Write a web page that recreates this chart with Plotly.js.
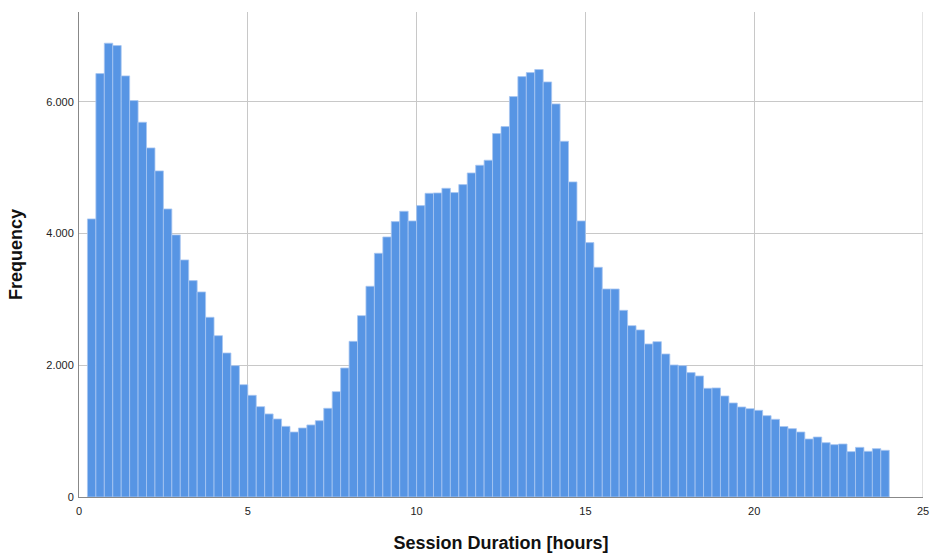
<!DOCTYPE html>
<html>
<head>
<meta charset="utf-8">
<script src="https://cdn.plot.ly/plotly-3.0.1.min.js"></script>
<style>html,body{margin:0;padding:0;background:#fff;}#chart{width:930px;height:553px;}</style>
</head>
<body>
<div id="chart"></div>
<script>
// Histogram bins: 0.25-hour bins starting at 0.25 h
const binStart = 0.25;
const binWidth = 0.25;
const frequency = [
  4223, 6430, 6891, 6855, 6395, 6020, 5691, 5301, 4952, 4374,
  3980, 3600, 3286, 3114, 2729, 2450, 2187, 1995, 1706, 1544,
  1372, 1261, 1185, 1073, 987, 1048, 1094, 1159, 1347, 1600,
  1959, 2364, 2754, 3200, 3701, 3949, 4182, 4339, 4192, 4425,
  4612, 4617, 4688, 4623, 4744, 4921, 5038, 5114, 5519, 5625,
  6081, 6384, 6445, 6491, 6303, 5969, 5402, 4785, 4192, 3863,
  3488, 3159, 3159, 2835, 2602, 2537, 2324, 2359, 2172, 2005,
  1995, 1889, 1838, 1651, 1656, 1534, 1428, 1367, 1342, 1316,
  1235, 1180, 1070, 1038, 987, 881, 911, 825, 795, 805,
  689, 754, 694, 734, 709
];
const binCenters = frequency.map((_, i) => binStart + binWidth * i + binWidth / 2);
const xTicks = [0, 5, 10, 15, 20, 25];
const yTicks = [0, 2000, 4000, 6000];

const trace = {
  type: 'bar',
  x: binCenters,
  y: frequency,
  width: binWidth,
  marker: {
    color: '#5795e4',
    line: {color: '#a8c7f1', width: 0.8}
  },
  hoverinfo: 'x+y'
};

const layout = {
  width: 930,
  height: 553,
  margin: {l: 79, r: 7, t: 12, b: 56},
  paper_bgcolor: '#ffffff',
  plot_bgcolor: '#ffffff',
  separators: ',.',
  bargap: 0,
  showlegend: false,
  font: {family: 'Liberation Sans, Arial, sans-serif', size: 11, color: '#222'},
  xaxis: {
    range: [0, 25],
    tickvals: xTicks,
    ticktext: xTicks.map(String),
    showgrid: true,
    gridcolor: '#c8c8c8',
    gridwidth: 1,
    zeroline: false,
    showline: true,
    linecolor: '#888888',
    linewidth: 1,
    ticks: '',
    ticklabelstandoff: 4,
    tickfont: {size: 11, color: '#222'},
    title: {text: 'Session Duration [hours]', font: {size: 18, color: '#111', family: 'Liberation Sans, Arial, sans-serif', weight: 'bold'}, standoff: 20}
  },
  yaxis: {
    range: [0, 7365],
    tickvals: yTicks,
    tickformat: ',d',
    showgrid: true,
    gridcolor: '#c8c8c8',
    gridwidth: 1,
    zeroline: false,
    showline: true,
    linecolor: '#888888',
    linewidth: 1,
    ticks: '',
    ticklabelstandoff: 2,
    tickfont: {size: 11, color: '#222'},
    title: {text: 'Frequency', font: {size: 18, color: '#111', family: 'Liberation Sans, Arial, sans-serif', weight: 'bold'}, standoff: 18}
  },
  shapes: [
    {type: 'line', xref: 'x', yref: 'paper', x0: 25, x1: 25, y0: 0, y1: 1, line: {color: '#c8c8c8', width: 1}}
  ]
};

Plotly.newPlot('chart', [trace], layout, {displayModeBar: false, staticPlot: true});
</script>
</body>
</html>
